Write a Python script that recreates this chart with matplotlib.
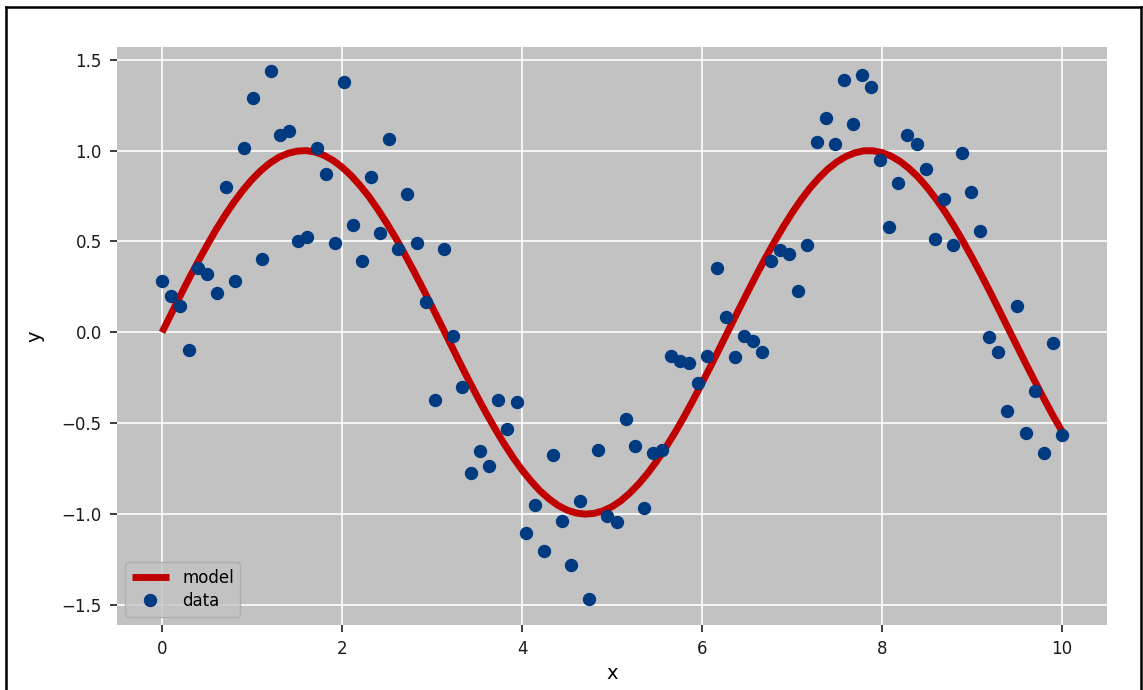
import numpy as np
import matplotlib
matplotlib.use("Agg")
import matplotlib.pyplot as plt
from matplotlib.lines import Line2D

# noisy samples, x = 0 .. 10 in 100 steps
data_x = np.linspace(0, 10, 100)
data_y = [
    0.283, 0.201, 0.146, -0.097, 0.352, 0.320, 0.214, 0.800, 0.283, 1.016,
    1.289, 0.401, 1.436, 1.084, 1.106, 0.503, 0.525, 1.016, 0.870, 0.489,
    1.377, 0.588, 0.390, 0.852, 0.547, 1.066, 0.458, 0.762, 0.489, 0.165,
    -0.372, 0.458, -0.020, -0.302, -0.773, -0.654, -0.735, -0.372, -0.530, -0.381,
    -1.104, -0.949, -1.203, -0.674, -1.037, -1.282, -0.927, -1.465, -0.645, -1.013,
    -1.046, -0.478, -0.626, -0.967, -0.665, -0.645, -0.128, -0.156, -0.167, -0.277,
    -0.128, 0.352, 0.086, -0.137, -0.018, -0.048, -0.108, 0.392, 0.452, 0.430,
    0.225, 0.480, 1.047, 1.181, 1.035, 1.386, 1.144, 1.418, 1.350, 0.947,
    0.577, 0.819, 1.084, 1.035, 0.897, 0.516, 0.732, 0.480, 0.987, 0.773,
    0.557, -0.027, -0.108, -0.431, 0.146, -0.555, -0.322, -0.665, -0.060, -0.564,
]

# model curve, x = 0 .. 10 step 0.1
model_x = np.linspace(0, 10, 101)
model_y = [
    0.000, 0.100, 0.199, 0.296, 0.389, 0.479, 0.565, 0.644, 0.717, 0.783,
    0.841, 0.891, 0.932, 0.964, 0.985, 0.997, 1.000, 0.992, 0.974, 0.946,
    0.909, 0.863, 0.808, 0.746, 0.675, 0.598, 0.516, 0.427, 0.335, 0.239,
    0.141, 0.042, -0.058, -0.158, -0.256, -0.351, -0.443, -0.530, -0.612, -0.688,
    -0.757, -0.818, -0.872, -0.916, -0.952, -0.978, -0.994, -1.000, -0.996, -0.982,
    -0.959, -0.926, -0.883, -0.832, -0.773, -0.706, -0.631, -0.551, -0.465, -0.374,
    -0.279, -0.182, -0.083, 0.017, 0.117, 0.215, 0.312, 0.405, 0.494, 0.578,
    0.657, 0.729, 0.794, 0.850, 0.899, 0.938, 0.968, 0.988, 0.999, 0.999,
    0.989, 0.970, 0.941, 0.902, 0.855, 0.798, 0.734, 0.663, 0.585, 0.501,
    0.412, 0.319, 0.223, 0.124, 0.024, -0.075, -0.174, -0.271, -0.366, -0.458,
    -0.544,
]

x_ticks = [0, 2, 4, 6, 8, 10]
y_ticks = [-1.5, -1.0, -0.5, 0.0, 0.5, 1.0, 1.5]

plt.rcParams["font.family"] = "DejaVu Sans"

fig = plt.figure(figsize=(11.43, 6.90), dpi=100)
ax = fig.add_axes([0.1024, 0.0942, 0.8661, 0.8377])
ax.set_facecolor("#c2c2c2")
for s in ax.spines.values():
    s.set_visible(False)
ax.grid(True, color="white", linewidth=1.2)
ax.set_axisbelow(True)

ax.plot(model_x, model_y, color="#c00000", linewidth=5, label="model",
        solid_capstyle="butt", zorder=2)
ax.plot(data_x, data_y, "o", color="#003a80", markersize=8.6,
        label="data", zorder=3)

ax.set_xlim(-0.5, 10.5)
ax.set_ylim(-1.61, 1.57)
ax.set_xticks(x_ticks)
ax.set_yticks(y_ticks)
ax.tick_params(labelsize=12, colors="#1a1a1a", length=5, width=1.2,
               pad=6)
ax.set_xlabel("x", fontsize=14, labelpad=4)
ax.set_ylabel("y", fontsize=14, labelpad=12)

leg = ax.legend(loc="lower left", fontsize=12, handlelength=2.2,
                borderpad=0.4, labelspacing=0.3, handletextpad=0.8,
                fancybox=True)
leg.get_frame().set_facecolor("#c2c2c2")
leg.get_frame().set_edgecolor("#aaaaaa")

# black frame round the picture (bottom edge is cut off)
fx0, fx1, fy1 = 6.0 / 1143, 1140.5 / 1143, 1 - 7.0 / 690
for xs, ys in [([fx0, fx0], [0, fy1]), ([fx0, fx1], [fy1, fy1]),
               ([fx1, fx1], [fy1, 0])]:
    fig.add_artist(Line2D(xs, ys, color="black", linewidth=1.8,
                          transform=fig.transFigure))

fig.savefig("out.png", dpi=100)
plt.close(fig)
